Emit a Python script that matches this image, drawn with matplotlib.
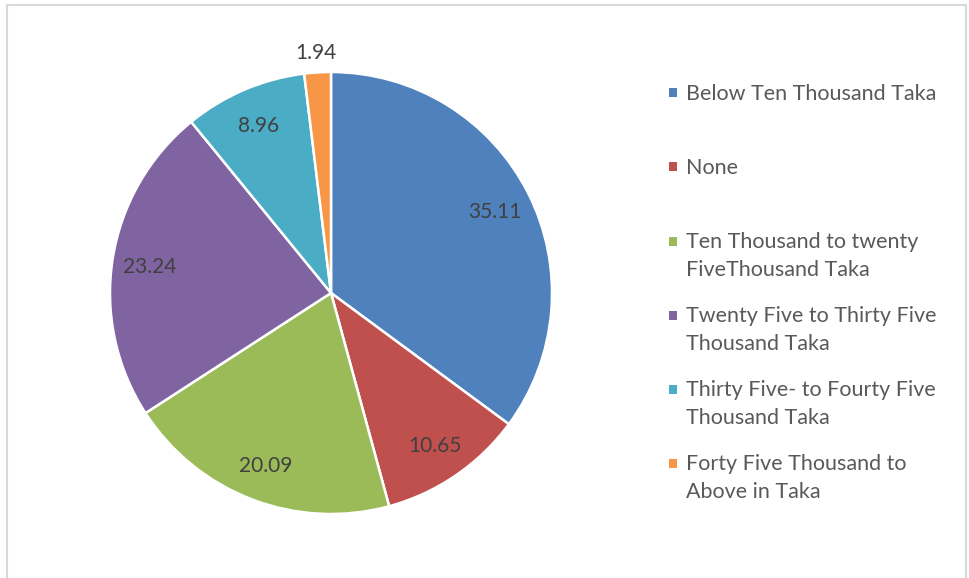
import matplotlib.pyplot as plt
from matplotlib.patches import Rectangle
import numpy as np

plt.rcParams['font.family'] = ['Lato', 'DejaVu Sans']

# monthly income groups (percent of respondents)
categories = ['Below Ten Thousand Taka',
              'None',
              'Ten Thousand to twenty\nFiveThousand Taka',
              'Twenty Five to Thirty Five\nThousand Taka',
              'Thirty Five- to Fourty Five\nThousand Taka',
              'Forty Five Thousand to\nAbove in Taka']
values = [35.11, 10.65, 20.09, 23.24, 8.96, 1.94]
value_labels = ['35.11', '10.65', '20.09', '23.24', '8.96', '1.94']
colors = ['#4F81BD', '#C0504D', '#9BBB59', '#8064A2', '#4BACC6', '#F79646']

W, H = 970, 578
fig = plt.figure(figsize=(W / 100, H / 100), dpi=100)

# chart border (light grey frame)
fig.patches.append(Rectangle((7.5 / W, -0.05), (966 - 7.5) / W, 1.05 - 5 / H,
                             transform=fig.transFigure, fill=False,
                             edgecolor='#d9d9d9', linewidth=1.5))

cx, cy, r = 331, H - 293, 221
ax = fig.add_axes([(cx - r) / W, (cy - r) / H, 2 * r / W, 2 * r / H])
wedges, texts = ax.pie(values, labels=value_labels, colors=colors,
                       startangle=90, counterclock=False, labeldistance=0.83,
                       wedgeprops=dict(edgecolor='white', linewidth=1.8),
                       textprops=dict(fontsize=15, color='#404040',
                                      ha='center', va='center_baseline'))
ax.set_xlim(-1, 1)
ax.set_ylim(-1, 1)
ax.set_aspect('equal')

# the thin slice gets its label outside the pie
t = texts[-1]
x, y = t.get_position()
t.set_position((x * 1.095 / 0.83, y * 1.095 / 0.83))
t.set_ha('center')

# legend drawn as square markers with wrapped labels
for i, (lab, col) in enumerate(zip(categories, colors)):
    ypix = 92 + 74 * i + (1 if i >= 2 else 0)
    fig.patches.append(Rectangle((669 / W, 1 - (ypix + 4.5) / H), 8.5 / W, 8.5 / H,
                                 transform=fig.transFigure, facecolor=col,
                                 edgecolor='none'))
    for j, line in enumerate(lab.split('\n')):
        fig.text(686 / W, 1 - (ypix + 7.5 + 28 * j) / H, line, fontsize=15.5,
                 color='#595959', ha='left', va='baseline')

fig.savefig('out.png', dpi=100)
